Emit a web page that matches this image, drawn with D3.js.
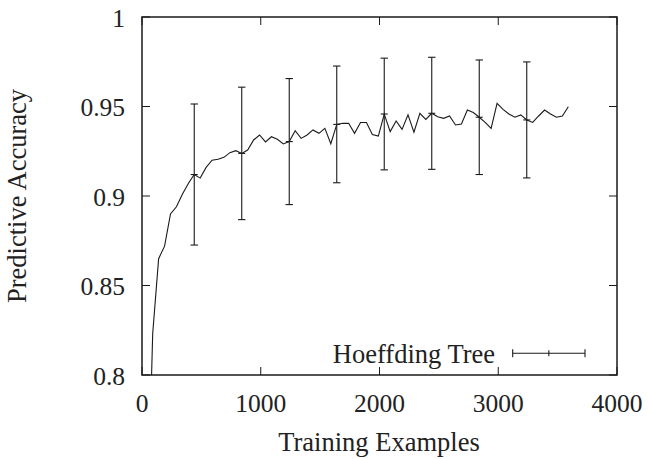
<!DOCTYPE html>
<html>
<head>
<meta charset="utf-8">
<script src="https://cdn.jsdelivr.net/npm/d3@7"></script>
<style>
  html, body { margin: 0; padding: 0; background: #fff; }
  svg { display: block; }
</style>
</head>
<body>
<svg id="chart" width="649" height="459"></svg>
<script>
// ---- Data ----
const xStart = 40, xStep = 50;
const accuracy = [
  0.700, 0.823, 0.865, 0.872, 0.890, 0.894, 0.901, 0.907, 0.912, 0.910,
  0.916, 0.920, 0.9205, 0.9216, 0.9242, 0.9253, 0.9238, 0.9257, 0.9313, 0.9341,
  0.9302, 0.9331, 0.9317, 0.9291, 0.9304, 0.9365, 0.9322, 0.9341, 0.9369, 0.9350,
  0.9378, 0.9292, 0.9400, 0.9406, 0.9406, 0.9350, 0.9411, 0.9411, 0.9344, 0.9335,
  0.9458, 0.9360, 0.9419, 0.9372, 0.9453, 0.9356, 0.9462, 0.9428, 0.9462, 0.9443,
  0.9434, 0.9447, 0.9397, 0.9402, 0.9480, 0.9466, 0.9440, 0.9411, 0.9378, 0.9518,
  0.9484, 0.9458, 0.9440, 0.9453, 0.9425, 0.9411, 0.9447, 0.9480, 0.9458, 0.9440,
  0.9447, 0.9499
];
const examples = accuracy.map((_, i) => xStart + i * xStep);
// error bars every 8th point
const errIndex = [8, 16, 24, 32, 40, 48, 56, 64];
const errStd = [0.0394, 0.0370, 0.0352, 0.0326, 0.0312, 0.0313, 0.0320, 0.0324];
const xTicks = [0, 1000, 2000, 3000, 4000];
const yTicks = [0.8, 0.85, 0.9, 0.95, 1];
const yTickLabels = ["0.8", "0.85", "0.9", "0.95", "1"];
const seriesName = "Hoeffding Tree";

// ---- Layout ----
const FONT = "'Liberation Serif', 'Times New Roman', Times, serif";
const FS_NUM = 25.5, FS_WORD = 26.5;
const svg = d3.select("#chart");
const L = 142, R = 617, T = 17, B = 375;
const x = d3.scaleLinear().domain([0, 4000]).range([L, R]);
const y = d3.scaleLinear().domain([0.8, 1]).range([B, T]);
const ink = "#1a1a1a";
const txt = "#222";

svg.append("defs").append("clipPath").attr("id", "clip")
  .append("rect").attr("x", L).attr("y", T).attr("width", R - L).attr("height", B - T);

// ticks (inward, mirrored)
const tl = 8;
const g = svg.append("g").attr("stroke", ink).attr("stroke-width", 1);
xTicks.forEach(t => {
  g.append("line").attr("x1", x(t)).attr("x2", x(t)).attr("y1", B).attr("y2", B - tl);
  g.append("line").attr("x1", x(t)).attr("x2", x(t)).attr("y1", T).attr("y2", T + tl);
});
yTicks.forEach(t => {
  g.append("line").attr("x1", L).attr("x2", L + tl).attr("y1", y(t)).attr("y2", y(t));
  g.append("line").attr("x1", R).attr("x2", R - tl).attr("y1", y(t)).attr("y2", y(t));
});

function label(sel, fs) {
  return sel.style("font-family", FONT).attr("font-size", fs).attr("fill", txt);
}

// tick labels
svg.append("g").selectAll("text").data(xTicks).join("text")
  .call(label, FS_NUM)
  .attr("x", d => x(d)).attr("y", 411.7)
  .attr("text-anchor", "middle")
  .text(d => d);
svg.append("g").selectAll("text").data(yTicks).join("text")
  .call(label, FS_NUM)
  .attr("x", 125).attr("y", d => y(d) + 9.5)
  .attr("text-anchor", "end")
  .text((d, i) => yTickLabels[i]);

// axis titles
svg.append("text").call(label, FS_WORD).attr("x", 379).attr("y", 451)
  .attr("text-anchor", "middle").text("Training Examples");
svg.append("text").call(label, FS_WORD).attr("transform", "translate(26,196) rotate(-90)")
  .attr("text-anchor", "middle").text("Predictive Accuracy");

// data line
const line = d3.line().x((d, i) => x(examples[i])).y(d => y(d));
svg.append("path").datum(accuracy)
  .attr("clip-path", "url(#clip)")
  .attr("fill", "none").attr("stroke", ink).attr("stroke-width", 1.1)
  .attr("stroke-linejoin", "miter")
  .attr("d", line);

// error bars
const cap = 3.7, pt = 3.5;
const eg = svg.append("g").attr("stroke", ink).attr("stroke-width", 1.1);
errIndex.forEach((k, j) => {
  const cx = x(examples[k]);
  const m = accuracy[k], s = errStd[j];
  const y1 = y(m + s), y2 = y(m - s), ym = y(m);
  eg.append("line").attr("x1", cx).attr("x2", cx).attr("y1", y1).attr("y2", y2);
  eg.append("line").attr("x1", cx - cap).attr("x2", cx + cap).attr("y1", y1).attr("y2", y1);
  eg.append("line").attr("x1", cx - cap).attr("x2", cx + cap).attr("y1", y2).attr("y2", y2);
  eg.append("line").attr("x1", cx - pt).attr("x2", cx + pt).attr("y1", ym).attr("y2", ym);
});

// legend
svg.append("text").call(label, FS_WORD).attr("x", 495).attr("y", 363.3)
  .attr("text-anchor", "end").text(seriesName);
const lg = svg.append("g").attr("stroke", ink).attr("stroke-width", 1.1);
const lx1 = 512.7, lx2 = 585, ly = 353.3;
lg.append("line").attr("x1", lx1).attr("x2", lx2).attr("y1", ly).attr("y2", ly);
lg.append("line").attr("x1", lx1).attr("x2", lx1).attr("y1", ly - 4).attr("y2", ly + 4);
lg.append("line").attr("x1", lx2).attr("x2", lx2).attr("y1", ly - 4).attr("y2", ly + 4);
const lm = (lx1 + lx2) / 2;
lg.append("line").attr("x1", lm).attr("x2", lm).attr("y1", ly - 3).attr("y2", ly + 3);

// frame
svg.append("rect").attr("x", L).attr("y", T).attr("width", R - L).attr("height", B - T)
  .attr("fill", "none").attr("stroke", ink).attr("stroke-width", 1.5);
</script>
</body>
</html>
